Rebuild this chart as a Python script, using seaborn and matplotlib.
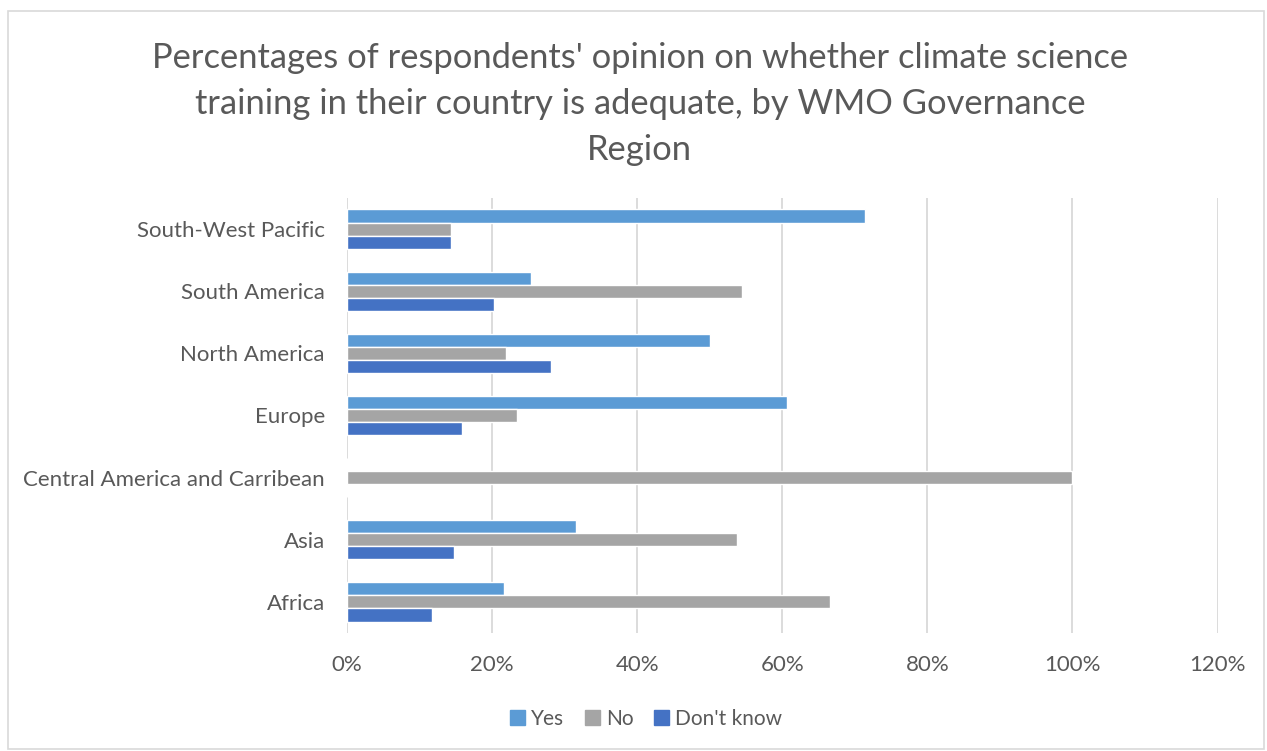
import matplotlib
matplotlib.use("Agg")
import matplotlib.pyplot as plt
from matplotlib.patches import Rectangle
from matplotlib.ticker import PercentFormatter
import seaborn as sns
import pandas as pd

# Survey results by WMO Governance Region (percent of respondents)
regions = ["South-West Pacific", "South America", "North America", "Europe",
           "Central America and Carribean", "Asia", "Africa"]
yes = [71.4, 25.4, 50.0, 60.6, 0.0, 31.5, 21.6]
no = [14.3, 54.5, 21.9, 23.4, 100.0, 53.7, 66.6]
dont_know = [14.3, 20.2, 28.1, 15.9, 0.0, 14.8, 11.7]
answers = ["Yes", "No", "Don't know"]
colors = ["#5B9BD5", "#A5A5A5", "#4472C4"]
x_ticks = [0, 20, 40, 60, 80, 100, 120]

title = ("Percentages of respondents' opinion on whether climate science\n"
         "training in their country is adequate, by WMO Governance\nRegion")

df = pd.DataFrame({
    "region": regions * 3,
    "answer": [a for a in answers for _ in regions],
    "pct": yes + no + dont_know,
})

sns.set_theme(style="white")
plt.rcParams["font.family"] = ["Lato", "DejaVu Sans"]
text_color = "#595959"

fig = plt.figure(figsize=(12.67, 7.51), dpi=100)
ax = fig.add_axes([0.2739, 0.1571, 0.6871, 0.5793])

sns.barplot(data=df, y="region", x="pct", hue="answer", order=regions,
            hue_order=answers, palette=colors, orient="h", width=0.63,
            saturation=1, ax=ax, legend=False, zorder=3)

ax.set_xlim(0, 120)
ax.set_xticks(x_ticks)
ax.xaxis.set_major_formatter(PercentFormatter(decimals=0))
ax.set_xlabel("")
ax.set_ylabel("")
ax.grid(axis="x", color="#D9D9D9", linewidth=1.3, zorder=0)
ax.grid(axis="y", visible=False)
for s in ax.spines.values():
    s.set_visible(False)
ax.tick_params(axis="both", length=0, colors=text_color, labelsize=16)
ax.tick_params(axis="y", pad=16)
ax.tick_params(axis="x", pad=16)

fig.text(0.505, 0.944, title, ha="center", va="top", fontsize=24.8,
         color=text_color, linespacing=1.53)

handles = [Rectangle((0, 0), 1, 1, color=c) for c in colors]
fig.legend(handles, answers, loc="center", bbox_to_anchor=(0.51, 0.043),
           ncol=3, frameon=False, fontsize=15, labelcolor=text_color,
           handlelength=0.7, handleheight=0.7, handletextpad=0.3,
           columnspacing=1.0)

# light border around the chart area
fig.patches.append(Rectangle((0.006, 0.002), 0.992, 0.984, transform=fig.transFigure,
                             fill=False, edgecolor="#D9D9D9", linewidth=1.2))

fig.savefig("out.png", dpi=100)
